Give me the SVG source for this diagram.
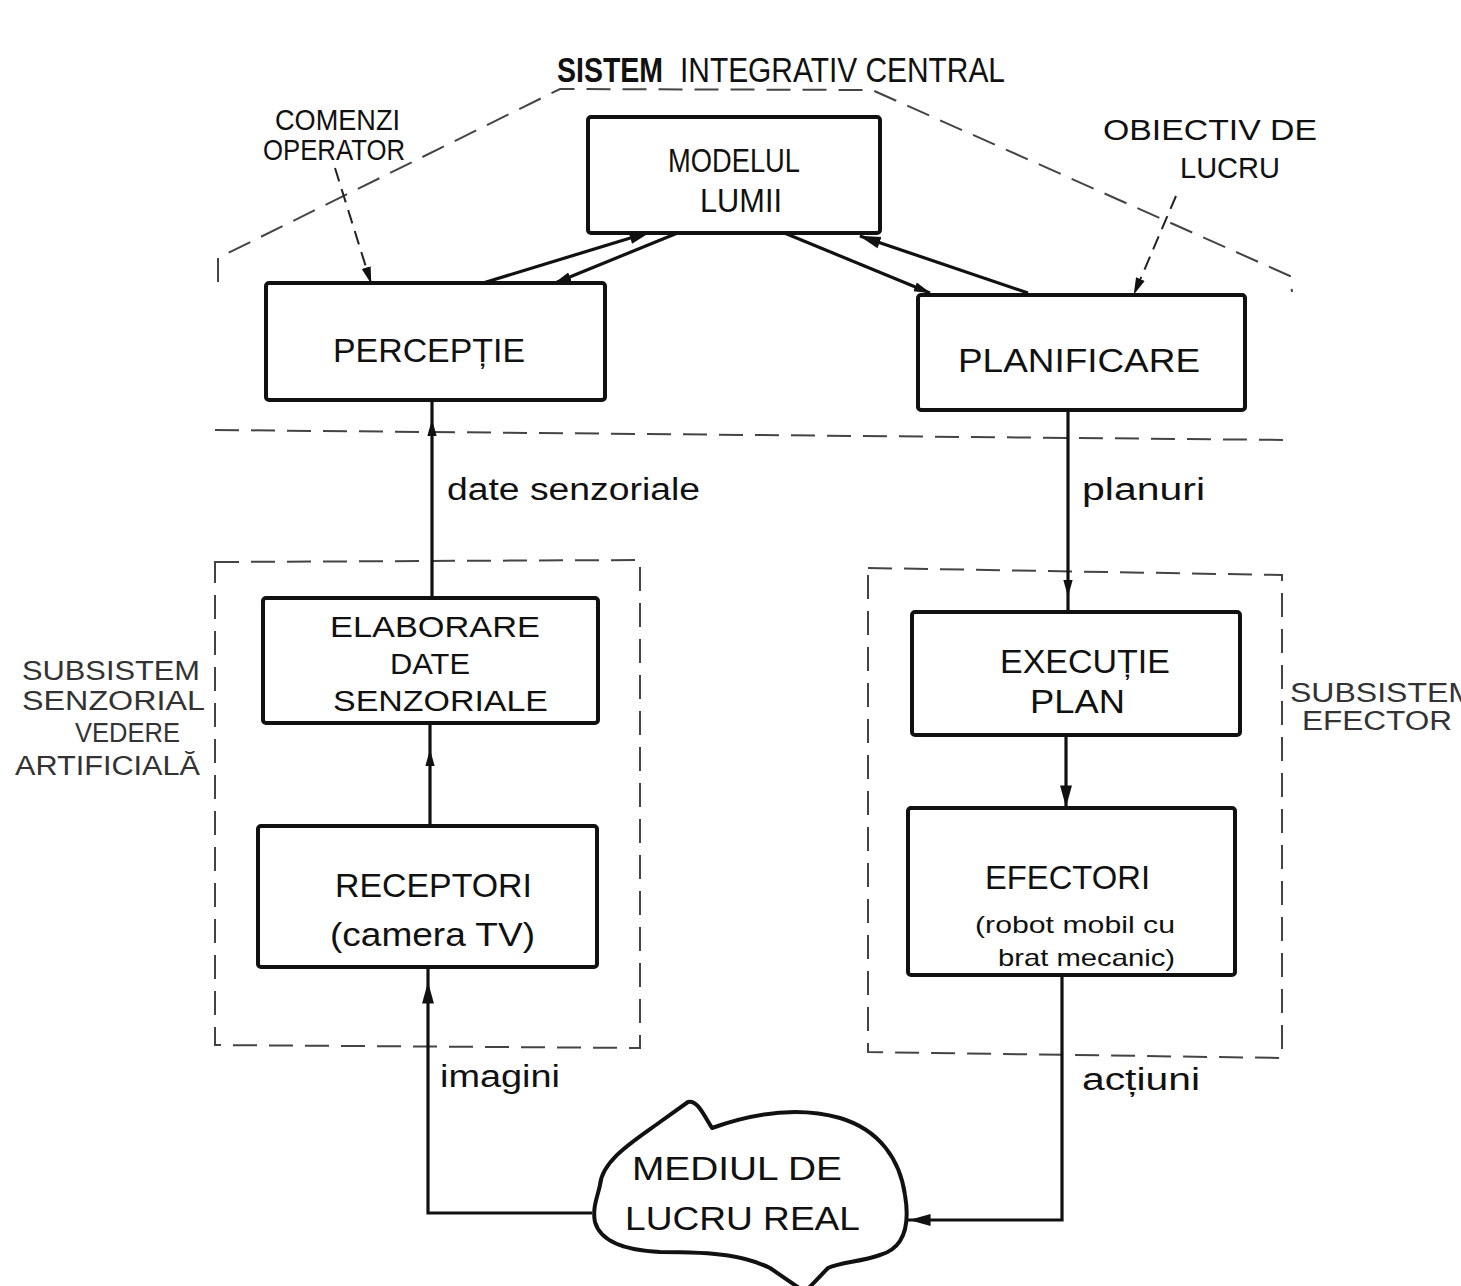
<svg xmlns="http://www.w3.org/2000/svg" width="1461" height="1286" viewBox="0 0 1461 1286">
  <style>
    .box { fill: #fff; stroke: #111; stroke-width: 4; stroke-linejoin: round; }
    .frame { fill: none; stroke: #444; stroke-width: 2; stroke-dasharray: 24 12; }
    .link { fill: none; stroke: #111; stroke-width: 3.2; }
    .thin { fill: none; stroke: #222; stroke-width: 2; stroke-dasharray: 14 8; }
    .tip { fill: none; stroke: none; }
    text { font-family: "Liberation Sans", "DejaVu Sans", sans-serif; fill: #111; }
    .title { font-size: 35px; }
    .big { font-size: 33px; }
    .mid { font-size: 29px; }
    .small { font-size: 24px; }
    .faint { font-size: 27px; fill: #333; }
    .lower { font-size: 31px; }
  </style>
  <defs>
    <marker id="head" viewBox="0 0 20 12" refX="19" refY="6" markerWidth="22" markerHeight="13" markerUnits="userSpaceOnUse" orient="auto">
      <path d="M0 0.5 L20 6 L0 11.5 Z" fill="#111"/>
    </marker>
    <marker id="headSmall" viewBox="0 0 20 12" refX="19" refY="6" markerWidth="17" markerHeight="11" markerUnits="userSpaceOnUse" orient="auto">
      <path d="M0 0.5 L20 6 L0 11.5 Z" fill="#111"/>
    </marker>
  </defs>

  <rect width="1461" height="1286" fill="#fff"/>

  <!-- subsystem frames -->
  <g id="frames">
    <polyline class="frame" points="218,282 218,258 560,89 872,90 1290,276 1292,292"/>
    <line class="frame" x1="215" y1="430" x2="1290" y2="440"/>
    <polygon class="frame" points="215,562 640,560 640,1048 215,1045"/>
    <polygon class="frame" points="868,568 1282,575 1282,1058 868,1052"/>
  </g>

  <!-- title and outside labels -->
  <g id="labels">
    <text class="title" x="557" y="82" font-weight="bold" textLength="106" lengthAdjust="spacingAndGlyphs">SISTEM</text>
    <text class="title" x="680" y="82" textLength="325" lengthAdjust="spacingAndGlyphs">INTEGRATIV CENTRAL</text>
    <text class="mid" x="275" y="130" textLength="125" lengthAdjust="spacingAndGlyphs">COMENZI</text>
    <text class="mid" x="263" y="160" textLength="142" lengthAdjust="spacingAndGlyphs">OPERATOR</text>
    <text class="mid" x="1103" y="140" textLength="214" lengthAdjust="spacingAndGlyphs">OBIECTIV DE</text>
    <text class="mid" x="1180" y="178" textLength="100" lengthAdjust="spacingAndGlyphs">LUCRU</text>
    <text class="faint" x="22" y="680" textLength="178" lengthAdjust="spacingAndGlyphs">SUBSISTEM</text>
    <text class="faint" x="22" y="710" textLength="183" lengthAdjust="spacingAndGlyphs">SENZORIAL</text>
    <text class="faint" x="75" y="742" textLength="105" lengthAdjust="spacingAndGlyphs">VEDERE</text>
    <text class="faint" x="15" y="775" textLength="185" lengthAdjust="spacingAndGlyphs">ARTIFICIALĂ</text>
    <text class="faint" x="1290" y="702" textLength="185" lengthAdjust="spacingAndGlyphs">SUBSISTEM</text>
    <text class="faint" x="1302" y="730" textLength="150" lengthAdjust="spacingAndGlyphs">EFECTOR</text>
  </g>

  <!-- connectors -->
  <g id="connectors">
    <!-- perception <-> world model -->
    <line class="link" x1="483" y1="283" x2="650" y2="232" marker-end="url(#head)"/>
    <line class="link" x1="680" y1="232" x2="555" y2="283" stroke-width="2.5" marker-end="url(#headSmall)"/>
    <!-- planning <-> world model -->
    <line class="link" x1="1028" y1="293" x2="860" y2="236" marker-end="url(#head)"/>
    <line class="link" x1="782" y1="232" x2="930" y2="293" stroke-width="2.5" marker-end="url(#headSmall)"/>
    <!-- operator commands / work goal -->
    <line class="thin" x1="335" y1="168" x2="371" y2="283" marker-end="url(#headSmall)"/>
    <line class="thin" x1="1176" y1="196" x2="1134" y2="294" marker-end="url(#headSmall)"/>
    <!-- sensory data up to perception -->
    <line class="link" x1="432" y1="598" x2="432" y2="402" stroke-width="2.5"/>
    <path class="tip" d="M432 445 L432 420" marker-end="url(#headSmall)"/>
    <!-- receptors up to data processing -->
    <line class="link" x1="430" y1="826" x2="430" y2="723"/>
    <path class="tip" d="M430 775 L430 750" marker-end="url(#headSmall)"/>
    <!-- images from the environment -->
    <polyline class="link" points="592,1213 428,1213 428,968"/>
    <path class="tip" d="M428 1010 L428 983" marker-end="url(#head)"/>
    <!-- plans down to execution -->
    <line class="link" x1="1068" y1="410" x2="1068" y2="612" stroke-width="2.5"/>
    <path class="tip" d="M1068 570 L1068 596" marker-end="url(#headSmall)"/>
    <!-- execution down to effectors -->
    <line class="link" x1="1066" y1="735" x2="1066" y2="808"/>
    <path class="tip" d="M1066 780 L1066 806" marker-end="url(#head)"/>
    <!-- actions into the environment -->
    <polyline class="link" points="1062,975 1062,1220 908,1220"/>
    <path class="tip" d="M940 1220 L910 1220" marker-end="url(#head)"/>
  </g>

  <!-- connector labels -->
  <g id="connector-labels">
    <text class="lower" x="447" y="500" textLength="253" lengthAdjust="spacingAndGlyphs">date senzoriale</text>
    <text class="lower" x="1082" y="500" textLength="123" lengthAdjust="spacingAndGlyphs">planuri</text>
    <text class="lower" x="440" y="1087" textLength="120" lengthAdjust="spacingAndGlyphs">imagini</text>
    <text class="lower" x="1082" y="1090" textLength="118" lengthAdjust="spacingAndGlyphs">acțiuni</text>
  </g>

  <g id="modelul-lumii">
    <rect class="box" x="588" y="117" width="292" height="116" rx="3"/>
    <text class="big" x="668" y="172" textLength="132" lengthAdjust="spacingAndGlyphs">MODELUL</text>
    <text class="big" x="700" y="212" textLength="82" lengthAdjust="spacingAndGlyphs">LUMII</text>
  </g>

  <g id="perceptie">
    <rect class="box" x="266" y="283" width="339" height="117" rx="3"/>
    <text class="big" x="333" y="362" textLength="192" lengthAdjust="spacingAndGlyphs">PERCEPȚIE</text>
  </g>

  <g id="planificare">
    <rect class="box" x="918" y="295" width="327" height="115" rx="3"/>
    <text class="big" x="958" y="372" textLength="242" lengthAdjust="spacingAndGlyphs">PLANIFICARE</text>
  </g>

  <g id="elaborare">
    <rect class="box" x="263" y="598" width="335" height="125" rx="3"/>
    <text class="mid" x="330" y="637" textLength="210" lengthAdjust="spacingAndGlyphs">ELABORARE</text>
    <text class="mid" x="390" y="674" textLength="80" lengthAdjust="spacingAndGlyphs">DATE</text>
    <text class="mid" x="333" y="711" textLength="215" lengthAdjust="spacingAndGlyphs">SENZORIALE</text>
  </g>

  <g id="receptori">
    <rect class="box" x="258" y="826" width="339" height="141" rx="3"/>
    <text class="big" x="335" y="897" textLength="197" lengthAdjust="spacingAndGlyphs">RECEPTORI</text>
    <text class="big" x="330" y="946" textLength="205" lengthAdjust="spacingAndGlyphs">(camera TV)</text>
  </g>

  <g id="executie">
    <rect class="box" x="912" y="612" width="328" height="123" rx="3"/>
    <text class="big" x="1000" y="673" textLength="170" lengthAdjust="spacingAndGlyphs">EXECUȚIE</text>
    <text class="big" x="1030" y="713" textLength="95" lengthAdjust="spacingAndGlyphs">PLAN</text>
  </g>

  <g id="efectori">
    <rect class="box" x="908" y="808" width="327" height="167" rx="3"/>
    <text class="big" x="985" y="889" textLength="165" lengthAdjust="spacingAndGlyphs">EFECTORI</text>
    <text class="small" x="975" y="933" textLength="200" lengthAdjust="spacingAndGlyphs">(robot mobil cu</text>
    <text class="small" x="998" y="966" textLength="177" lengthAdjust="spacingAndGlyphs">brat mecanic)</text>
  </g>

  <g id="mediul-de-lucru">
    <path class="box" d="M600 1185 C602 1160 635 1140 660 1122 L688 1102 C698 1100 704 1116 712 1128 C740 1118 790 1104 840 1118 C880 1130 900 1160 905 1195 C910 1225 905 1248 880 1255 C860 1262 842 1262 828 1268 L805 1292 L770 1268 C745 1256 720 1252 660 1252 C620 1250 600 1240 595 1222 C592 1208 598 1195 600 1185 Z"/>
    <text class="big" x="632" y="1180" textLength="210" lengthAdjust="spacingAndGlyphs">MEDIUL  DE</text>
    <text class="big" x="625" y="1230" textLength="235" lengthAdjust="spacingAndGlyphs">LUCRU  REAL</text>
  </g>
</svg>
